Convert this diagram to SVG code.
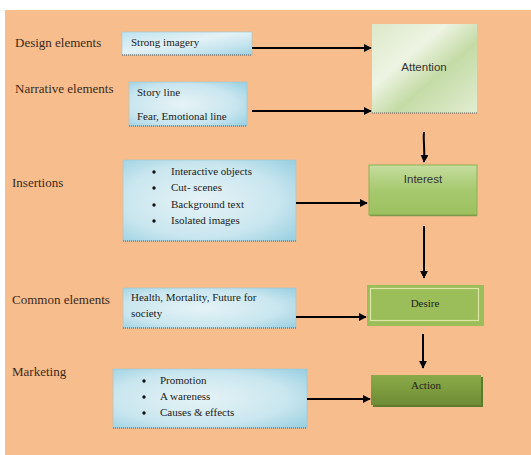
<svg xmlns="http://www.w3.org/2000/svg" width="531" height="455" viewBox="0 0 531 455">
<defs>
<linearGradient id="blue" x1="0" y1="0" x2="1" y2="1">
<stop offset="0" stop-color="#bfe3ee"/>
<stop offset="0.45" stop-color="#e4f2f6"/>
<stop offset="0.75" stop-color="#c4e4ee"/>
<stop offset="1" stop-color="#9fd3e3"/>
</linearGradient>
<radialGradient id="blue2" cx="0.45" cy="0.5" r="0.75">
<stop offset="0" stop-color="#e6f3f7"/>
<stop offset="0.6" stop-color="#c9e6ef"/>
<stop offset="1" stop-color="#95cee0"/>
</radialGradient>
<linearGradient id="attn" x1="0" y1="0" x2="1" y2="1">
<stop offset="0" stop-color="#dbe8c9"/>
<stop offset="0.35" stop-color="#eef4e3"/>
<stop offset="0.6" stop-color="#c4dba6"/>
<stop offset="1" stop-color="#e2edd2"/>
</linearGradient>
<linearGradient id="intr" x1="0" y1="0" x2="0" y2="1">
<stop offset="0" stop-color="#c6dd9f"/>
<stop offset="0.5" stop-color="#a7c96e"/>
<stop offset="1" stop-color="#9cc160"/>
</linearGradient>
<linearGradient id="act" x1="0" y1="0" x2="0" y2="1">
<stop offset="0" stop-color="#8aaa4a"/>
<stop offset="0.5" stop-color="#7c9c3e"/>
<stop offset="1" stop-color="#6e8c35"/>
</linearGradient>
<marker id="ah" viewBox="0 0 10 10" refX="9" refY="5" markerWidth="4" markerHeight="4" orient="auto" markerUnits="strokeWidth">
<path d="M0,0 L10,5 L0,10 z" fill="#000"/>
</marker>
<style>
.lbl{font-family:"Liberation Serif","Times New Roman",serif;font-size:13px;fill:#3a2a1e}
.bt{font-family:"Liberation Serif","Times New Roman",serif;font-size:11px;fill:#222}
.sans{font-family:"Liberation Sans",Arial,sans-serif;font-size:11.5px;fill:#333}
.box{stroke:#9cc6d3;stroke-width:0.6}
.dot{stroke:#555;stroke-width:1;stroke-dasharray:1 1}
.con{stroke:#000;stroke-width:2;fill:none;marker-end:url(#ah)}
</style>
</defs>
<rect x="0" y="0" width="531" height="455" fill="#ffffff"/>
<rect x="5" y="10" width="526" height="445" fill="#f8bd8c"/>

<g id="label-design"><text class="lbl" x="15" y="47">Design elements</text></g>
<g id="label-narrative"><text class="lbl" x="15" y="93">Narrative elements</text></g>
<g id="label-insertions"><text class="lbl" x="12" y="187">Insertions</text></g>
<g id="label-common"><text class="lbl" x="12" y="304">Common elements</text></g>
<g id="label-marketing"><text class="lbl" x="12" y="376">Marketing</text></g>

<g id="strong-imagery">
<rect class="box" x="122" y="32" width="130" height="23" fill="url(#blue)"/>
<line class="dot" x1="122" y1="55" x2="252" y2="55"/>
<text class="bt" x="131" y="46">Strong imagery</text>
</g>
<g id="story">
<rect class="box" x="129" y="82" width="118" height="44" fill="url(#blue2)"/>
<line class="dot" x1="129" y1="126" x2="247" y2="126"/>
<text class="bt" x="137" y="96">Story line</text>
<text class="bt" x="137" y="120">Fear, Emotional line</text>
</g>
<g id="insertions">
<rect class="box" x="123" y="160" width="173" height="81" fill="url(#blue2)"/>
<line class="dot" x1="123" y1="241" x2="296" y2="241"/>
<g class="bt">
<circle cx="154" cy="172" r="1.7" fill="#111"/><text class="bt" x="171" y="175">Interactive objects</text>
<circle cx="154" cy="188" r="1.7" fill="#111"/><text class="bt" x="171" y="191">Cut- scenes</text>
<circle cx="154" cy="205" r="1.7" fill="#111"/><text class="bt" x="171" y="208">Background text</text>
<circle cx="154" cy="221" r="1.7" fill="#111"/><text class="bt" x="171" y="224">Isolated images</text>
</g>
</g>
<g id="common">
<rect class="box" x="123" y="288" width="173" height="40" fill="url(#blue2)"/>
<line class="dot" x1="123" y1="328" x2="296" y2="328"/>
<text class="bt" x="131" y="301">Health, Mortality, Future for</text>
<text class="bt" x="131" y="317">society</text>
</g>
<g id="marketing">
<rect class="box" x="113" y="369" width="194" height="59" fill="url(#blue2)"/>
<line class="dot" x1="113" y1="428" x2="307" y2="428"/>
<circle cx="144" cy="381" r="1.7" fill="#111"/><text class="bt" x="160" y="384">Promotion</text>
<circle cx="144" cy="397" r="1.7" fill="#111"/><text class="bt" x="160" y="400">A wareness</text>
<circle cx="144" cy="413" r="1.7" fill="#111"/><text class="bt" x="160" y="416">Causes &amp; effects</text>
</g>

<g id="attention">
<rect x="372" y="24" width="105" height="89" fill="url(#attn)"/>
<line class="dot" x1="372" y1="113" x2="477" y2="113" stroke="#777"/>
<text class="sans" x="424" y="71" text-anchor="middle">Attention</text>
</g>
<g id="interest">
<rect x="369" y="165" width="108" height="50" fill="url(#intr)" stroke="#8db054" stroke-width="1"/>
<line x1="370" y1="215.5" x2="477" y2="215.5" stroke="#7e9c4a" stroke-width="1.5"/>
<text class="sans" x="423" y="183" text-anchor="middle">Interest</text>
</g>
<g id="desire">
<rect x="367" y="285" width="117" height="41" fill="#9bbd5a"/>
<rect x="370.5" y="288.5" width="108" height="32" fill="none" stroke="#dfe6a6" stroke-width="1.2"/>
<text class="bt" x="425" y="307" text-anchor="middle">Desire</text>
</g>
<g id="action">
<rect x="373" y="377" width="110" height="30" fill="#5f7a2c"/>
<rect x="371" y="375" width="110" height="30" fill="url(#act)"/>
<text class="bt" x="426" y="389" text-anchor="middle">Action</text>
</g>

<g id="connectors">
<line class="con" x1="252" y1="48" x2="371" y2="48"/>
<line class="con" x1="252" y1="111" x2="371" y2="111"/>
<line class="con" x1="296" y1="203" x2="367" y2="203"/>
<line class="con" x1="296" y1="317" x2="366" y2="317"/>
<line class="con" x1="307" y1="399" x2="370" y2="399"/>
<path class="con" d="M424,132 C423,140 425,148 424,162"/>
<line class="con" x1="424" y1="226" x2="424" y2="278"/>
<line class="con" x1="423" y1="334" x2="423" y2="368"/>
</g>
</svg>
